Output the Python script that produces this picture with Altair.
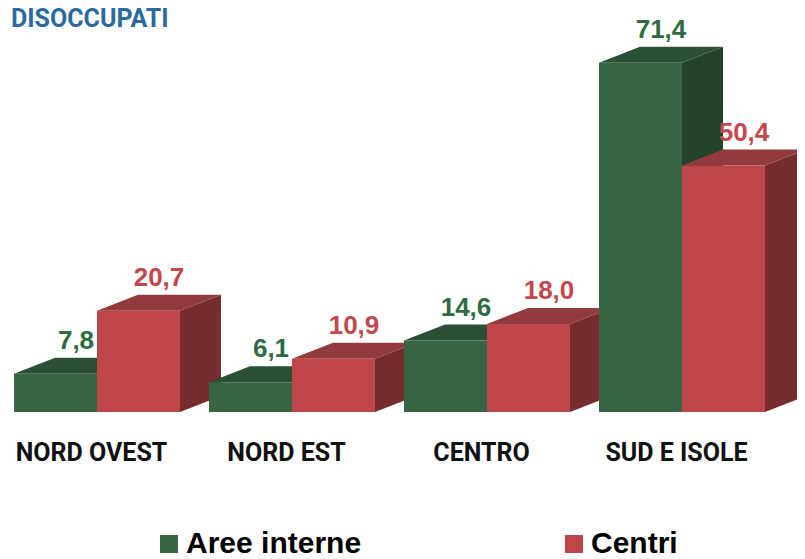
import json
import altair as alt
import pandas as pd

# ---- data ----
categories = ["NORD OVEST", "NORD EST", "CENTRO", "SUD E ISOLE"]
series = ["Aree interne", "Centri"]
aree_interne = [7.8, 6.1, 14.6, 71.4]
centri = [20.7, 10.9, 18.0, 50.4]
title_text = ["DISOCCUPATI"]

# ---- geometry (in scale units) ----
W = 0.4256      # bar width (group spacing = 1)
DX = 0.2103     # 3D depth, horizontal
DY = 3.27       # 3D depth, vertical (value units)

front_cols = ["#376442", "#be4548"]
top_cols = ["#2c5035", "#933a3c"]
side_cols = ["#24412b", "#772c2e"]
label_cols = ["#2f6b40", "#c4474b"]

bars, tops, sides = [], [], []
for i, cat in enumerate(categories):
    for j, (s, vals) in enumerate(zip(series, [aree_interne, centri])):
        v = vals[i]
        x0 = i + j * W
        x1 = x0 + W
        key = f"{i}-{j}"
        bars.append(dict(cat=cat, series=s, value=v, x0=x0, x1=x1,
                         label=f"{v:.1f}".replace(".", ","),
                         xl=x0 + W / 2 + DX / 2, yl=v + DY))
        for xx, ya, yb in [(x0, v, v), (x0 + DX, v, v + DY),
                           (x1, v, v + DY), (x1 + DX, v + DY, v + DY)]:
            tops.append(dict(key=key, series=s, x=xx, y=ya, y2=yb))
        for xx, ya, yb in [(x1, 0, v), (x1 + DX, DY, v + DY)]:
            sides.append(dict(key=key, series=s, x=xx, y=ya, y2=yb))

bars = pd.DataFrame(bars)
tops = pd.DataFrame(tops)
sides = pd.DataFrame(sides)
titles = pd.DataFrame({"t": title_text})

PX_PER_UNIT = 195.0
PLOT_W = 789
PLOT_H = 374
d0 = -6 / PX_PER_UNIT
xscale = alt.Scale(domain=[d0, d0 + PLOT_W / PX_PER_UNIT], nice=False, zero=False)
yscale = alt.Scale(domain=[0, PLOT_H / 4.89], nice=False, zero=False)

label_expr = json.dumps(categories) + "[round(datum.value)]"
xaxis = alt.Axis(values=[i + W for i in range(len(categories))],
                 labelExpr=label_expr, title=None, domain=False,
                 ticks=False, grid=False, labelPadding=28,
                 labelOffset=-6, labelFontSize=25,
                 labelFont="Roboto", labelFontWeight="bold",
                 labelColor="#111111", labelAngle=0, labelLimit=0)


def cscale(rng):
    return alt.Scale(domain=series, range=rng)


side_layer = alt.Chart(sides).mark_area(opacity=1, interpolate="linear").encode(
    x=alt.X("x:Q", scale=xscale, axis=xaxis),
    y=alt.Y("y:Q", scale=yscale, axis=None, stack=None),
    y2="y2:Q",
    detail="key:N",
    color=alt.Color("series:N", scale=cscale(side_cols), legend=None),
)

top_layer = alt.Chart(tops).mark_area(opacity=1, interpolate="linear").encode(
    x=alt.X("x:Q", scale=xscale, axis=xaxis),
    y=alt.Y("y:Q", scale=yscale, axis=None, stack=None),
    y2="y2:Q",
    detail="key:N",
    color=alt.Color("series:N", scale=cscale(top_cols), legend=None),
)

front_layer = alt.Chart(bars).mark_rect().encode(
    x=alt.X("x0:Q", scale=xscale, axis=xaxis),
    x2="x1:Q",
    y=alt.Y("value:Q", scale=yscale, axis=None),
    y2=alt.datum(0),
    color=alt.Color("series:N", scale=cscale(front_cols),
                    legend=alt.Legend(title=None, orient="none", legendX=146,
                                      legendY=491, direction="horizontal",
                                      symbolType="square", symbolSize=324,
                                      symbolStrokeWidth=0, labelFontSize=30,
                                      labelFont="Liberation Sans",
                                      labelFontWeight="bold",
                                      labelColor="#000000", labelOffset=2,
                                      labelLimit=0, columnPadding=197)),
)

text_layer = alt.Chart(bars).mark_text(
    fontSize=26, font="Liberation Sans", fontWeight="bold",
    baseline="alphabetic", align="center", dy=-9,
).encode(
    x=alt.X("xl:Q", scale=xscale, axis=xaxis),
    y=alt.Y("yl:Q", scale=yscale, axis=None),
    text="label:N",
    color=alt.Color("series:N", scale=cscale(label_cols), legend=None),
)

title_layer = alt.Chart(titles).mark_text(
    fontSize=25, font="Roboto", fontWeight="bold", color="#2b6a9e",
    align="left", baseline="alphabetic",
).encode(
    x=alt.value(3),
    y=alt.value(-11),
    text="t:N",
)

chart = alt.layer(side_layer, top_layer, front_layer, text_layer, title_layer).resolve_scale(
    color="independent"
).properties(
    width=PLOT_W,
    height=PLOT_H,
    autosize=alt.AutoSizeParams(type="none"),
    padding={"left": 0, "right": 0, "top": 30, "bottom": 147},
).configure_view(stroke=None)

chart.save("out.html", embed_options={"renderer": "svg", "actions": False})
